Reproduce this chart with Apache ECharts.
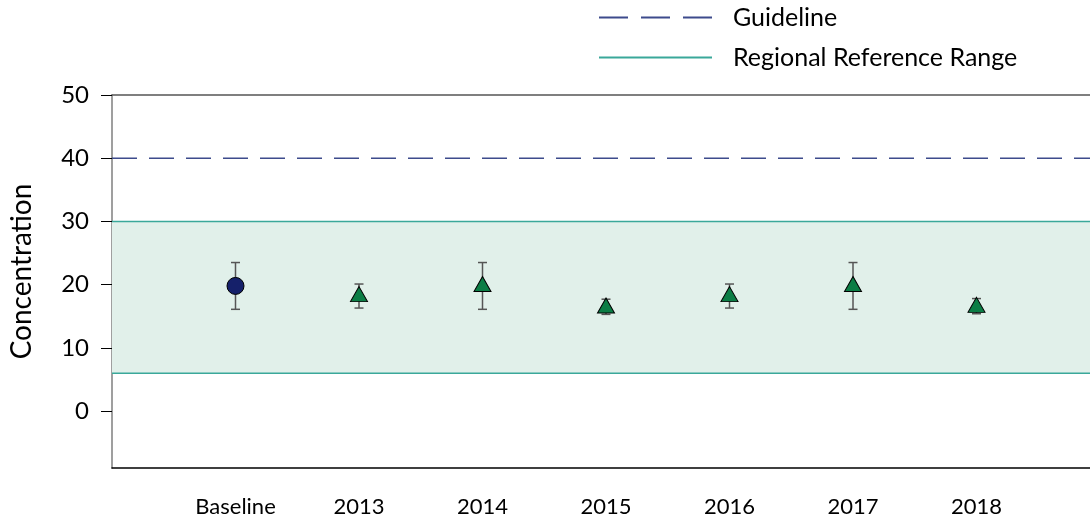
<!DOCTYPE html>
<html>
<head>
<meta charset="utf-8">
<script src="https://cdn.jsdelivr.net/npm/echarts@6/dist/echarts.min.js"></script>
<style>
  html, body { margin: 0; padding: 0; background: #fff; }
  #chart { width: 1090px; height: 521px; }
</style>
</head>
<body>
<div id="chart"></div>
<script>
// categories and values
var categories = ["Baseline", "2013", "2014", "2015", "2016", "2017", "2018"];
var means = [19.8, 18.5, 20.1, 16.7, 18.5, 20.1, 16.8];
var lows = [16.1, 16.3, 16.1, 15.3, 16.3, 16.1, 15.4];
var highs = [23.5, 20.1, 23.5, 17.7, 20.1, 23.5, 17.8];
var yTicks = [0, 10, 20, 30, 40, 50];
var guideline = 40;
var rangeLow = 6;
var rangeHigh = 30;

var FONT = "Lato";

// empty slot on each side so the points sit one step in from the axis
var axisCats = [""].concat(categories).concat([" "]);
var lastIdx = axisCats.length - 1;

var baselineData = [[1, means[0]]];
var yearData = [];
var barData = [];
for (var i = 0; i < categories.length; i++) {
  if (i > 0) yearData.push([i + 1, means[i]]);
  barData.push([i + 1, lows[i], highs[i]]);
}

function renderErrorBar(params, api) {
  var top = api.coord([api.value(0), api.value(2)]);
  var bot = api.coord([api.value(0), api.value(1)]);
  var cap = 4.5;
  var style = { stroke: "#555", lineWidth: 1.5 };
  return {
    type: "group",
    children: [
      { type: "line", shape: { x1: top[0], y1: top[1], x2: bot[0], y2: bot[1] }, style: style },
      { type: "line", shape: { x1: top[0] - cap, y1: top[1], x2: top[0] + cap, y2: top[1] }, style: style },
      { type: "line", shape: { x1: bot[0] - cap, y1: bot[1], x2: bot[0] + cap, y2: bot[1] }, style: style }
    ]
  };
}

var chart = echarts.init(document.getElementById("chart"));
chart.setOption({
  animation: false,
  textStyle: { fontFamily: FONT },
  // grid runs past the right edge of the canvas, like the original
  grid: { left: 112, width: 988, top: 95, bottom: 53, outerBoundsMode: "none" },
  legend: {
    data: [
      { name: "Guideline", lineStyle: { type: [29, 13] } },
      { name: "Regional Reference Range" }
    ],
    orient: "vertical",
    left: 593,
    top: 0,
    itemWidth: 113,
    itemHeight: 26,
    itemGap: 15,
    itemStyle: { opacity: 0 },
    textStyle: { fontFamily: FONT, fontSize: 25, color: "#000", padding: [0, 0, 0, 16] }
  },
  xAxis: [
    {
      type: "category",
      data: axisCats,
      boundaryGap: false,
      axisLine: { onZero: false, lineStyle: { color: "#000", width: 1.5 } },
      axisTick: { show: false },
      axisLabel: { color: "#000", fontSize: 22, margin: 28, interval: 0 }
    },
    {
      type: "category",
      data: axisCats,
      boundaryGap: false,
      position: "top",
      axisLine: { onZero: false, lineStyle: { color: "#555", width: 1.5 } },
      axisTick: { show: false },
      axisLabel: { show: false }
    }
  ],
  yAxis: {
    type: "value",
    min: -9,
    max: 50,
    name: "Concentration",
    nameLocation: "middle",
    nameGap: 76,
    nameTextStyle: { fontFamily: FONT, fontSize: 28, color: "#000", padding: [0, 0, 0, 20] },
    axisLine: { show: true, lineStyle: { color: "#7f7f7f", width: 1.5 } },
    axisTick: { show: true, length: 11, customValues: yTicks, lineStyle: { color: "#000" } },
    axisLabel: { color: "#000", fontSize: 24, margin: 23, customValues: yTicks },
    splitLine: { show: false }
  },
  series: [
    {
      name: "Regional Reference Range",
      type: "line",
      data: [[0, rangeHigh], [lastIdx, rangeHigh]],
      symbol: "none",
      lineStyle: { color: "#3aa89a", width: 1.5 },
      itemStyle: { color: "#3aa89a" },
      z: 2,
      markArea: {
        silent: true,
        itemStyle: { color: "#e1f0ea" },
        data: [[{ yAxis: rangeLow }, { yAxis: rangeHigh }]]
      }
    },
    {
      name: "Regional Reference Range",
      type: "line",
      data: [[0, rangeLow], [lastIdx, rangeLow]],
      symbol: "none",
      lineStyle: { color: "#3aa89a", width: 1.5 },
      itemStyle: { color: "#3aa89a" },
      z: 2
    },
    {
      name: "Guideline",
      type: "line",
      data: [[0, guideline], [lastIdx, guideline]],
      symbol: "none",
      lineStyle: { color: "#3d4b8c", width: 1.5, type: [25, 12] },
      itemStyle: { color: "#3d4b8c" },
      z: 2
    },
    {
      name: "Error",
      type: "custom",
      renderItem: renderErrorBar,
      data: barData,
      encode: { x: 0, y: [1, 2] },
      z: 3
    },
    {
      name: "Baseline",
      type: "scatter",
      data: baselineData,
      symbol: "circle",
      symbolSize: 17,
      itemStyle: { color: "#15206a", borderColor: "#000", borderWidth: 1, opacity: 1 },
      z: 4
    },
    {
      name: "Annual",
      type: "scatter",
      data: yearData,
      symbol: "triangle",
      symbolSize: [17, 15],
      itemStyle: { color: "#0b7d45", borderColor: "#000", borderWidth: 1, opacity: 1 },
      z: 4
    }
  ]
});
</script>
</body>
</html>
